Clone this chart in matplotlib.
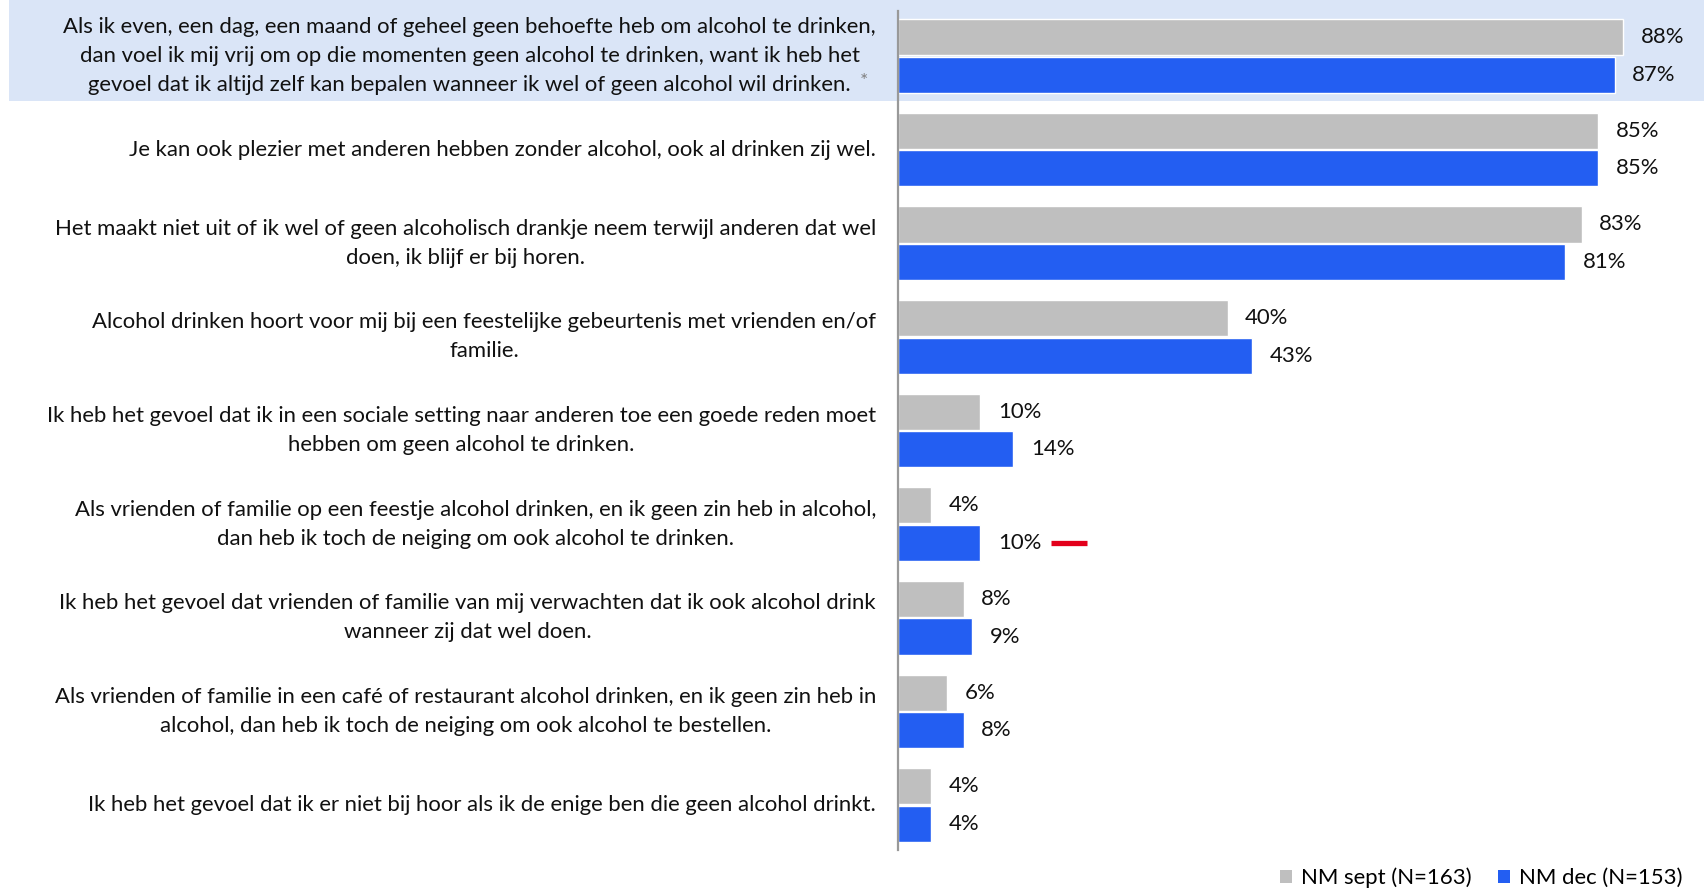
import matplotlib.pyplot as plt
from matplotlib.patches import Patch, Rectangle

plt.rcParams["font.family"] = ["Lato", "DejaVu Sans"]

statements = [
    "Als ik even, een dag, een maand of geheel geen behoefte heb om alcohol te drinken,\n"
    "dan voel ik mij vrij om op die momenten geen alcohol te drinken, want ik heb het\n"
    "gevoel dat ik altijd zelf kan bepalen wanneer ik wel of geen alcohol wil drinken.",
    "Je kan ook plezier met anderen hebben zonder alcohol, ook al drinken zij wel.",
    "Het maakt niet uit of ik wel of geen alcoholisch drankje neem terwijl anderen dat wel\n"
    "doen, ik blijf er bij horen.",
    "Alcohol drinken hoort voor mij bij een feestelijke gebeurtenis met vrienden en/of\n"
    "familie.",
    "Ik heb het gevoel dat ik in een sociale setting naar anderen toe een goede reden moet\n"
    "hebben om geen alcohol te drinken.",
    "Als vrienden of familie op een feestje alcohol drinken, en ik geen zin heb in alcohol,\n"
    "dan heb ik toch de neiging om ook alcohol te drinken.",
    "Ik heb het gevoel dat vrienden of familie van mij verwachten dat ik ook alcohol drink\n"
    "wanneer zij dat wel doen.",
    "Als vrienden of familie in een café of restaurant alcohol drinken, en ik geen zin heb in\n"
    "alcohol, dan heb ik toch de neiging om ook alcohol te bestellen.",
    "Ik heb het gevoel dat ik er niet bij hoor als ik de enige ben die geen alcohol drinkt.",
]
sept = [88, 85, 83, 40, 10, 4, 8, 6, 4]
dec = [87, 85, 81, 43, 14, 10, 9, 8, 4]
# significant decrease marker (red dash) after the dec value
sig_down = [False, False, False, False, False, True, False, False, False]
highlighted = [0]
asterisk = [0]

series_labels = ["NM sept (N=163)", "NM dec (N=153)"]
grey = "#BFBFBF"
blue = "#235EF2"
fs = 15.9

W, H = 1704, 890
fig = plt.figure(figsize=(W / 100, H / 100), dpi=100)
x0, xmax = 898, 97
px_per_pct = 8.24
ax = fig.add_axes([x0 / W, 40 / H, xmax * px_per_pct / W, 839 / H])
ax.set_xlim(0, xmax)
ax.set_ylim(8.48, -0.48)

ys = list(range(len(statements)))
ax.barh([y - 0.2 for y in ys], sept, height=0.385, color=grey,
        edgecolor="white", linewidth=1, zorder=2)
ax.barh([y + 0.2 for y in ys], dec, height=0.385, color=blue,
        edgecolor="white", linewidth=1, zorder=2)

for y, s, d in zip(ys, sept, dec):
    ax.annotate("%d%%" % s, (s, y - 0.2), xytext=(12.5, 0), textcoords="offset points",
                ha="left", va="center", fontsize=fs, color="#111111")
    ax.annotate("%d%%" % d, (d, y + 0.2), xytext=(12.5, 0), textcoords="offset points",
                ha="left", va="center", fontsize=fs, color="#111111")
    if sig_down[y]:
        ax.plot([d + 8.6, d + 12.9], [y + 0.2, y + 0.2], color="#E3001B",
                linewidth=3.8, solid_capstyle="butt", zorder=3)

trans = ax.get_yaxis_transform()
for y, txt in enumerate(statements):
    ax.text(-22 / (xmax * px_per_pct), y, txt, transform=trans, ha="right",
            va="center", multialignment="center", fontsize=fs, color="#111111",
            linespacing=1.55)
for y in asterisk:
    ax.text(-34 / (xmax * px_per_pct), y + 0.27, "*", transform=trans, ha="center",
            va="center", fontsize=14, color="#7F7F7F")

for y in highlighted:
    fig.patches.append(Rectangle((9 / W, 1 - 101 / H), 1 - 9 / W, 101 / H,
                                 transform=fig.transFigure, facecolor="#DAE5F7",
                                 edgecolor="none", zorder=-1))

for side in ["top", "right", "bottom"]:
    ax.spines[side].set_visible(False)
ax.spines["left"].set_color("#999999")
ax.spines["left"].set_linewidth(1.6)
ax.spines["left"].set_zorder(4)
ax.set_xticks([])
ax.set_yticks([])
ax.patch.set_alpha(0)

handles = [Patch(facecolor=grey), Patch(facecolor=blue)]
fig.legend(handles, series_labels, loc="lower right", bbox_to_anchor=(1696 / W, -0.013),
           ncol=2, frameon=False, fontsize=fs, handlelength=0.55, handleheight=0.55,
           handletextpad=0.4, columnspacing=1.2, borderaxespad=0.2)

fig.savefig("out.png", dpi=100)
